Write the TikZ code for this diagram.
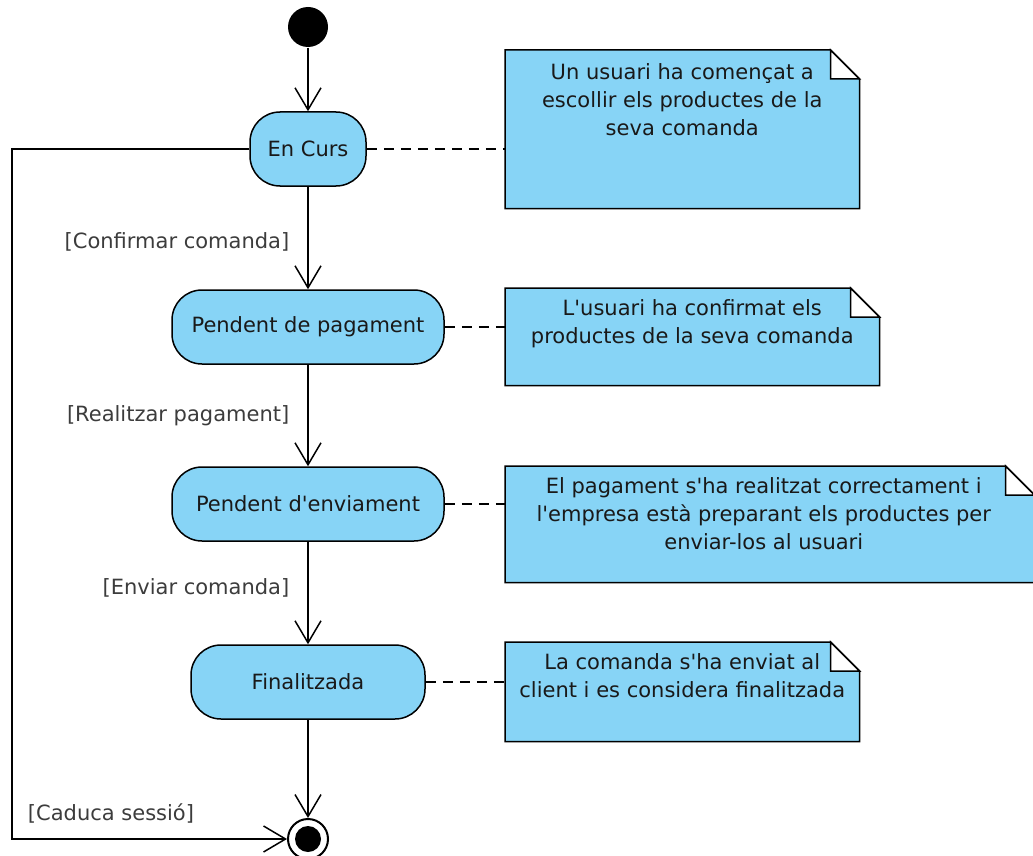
\documentclass[tikz,border=0pt]{standalone}
\usepackage{fontspec}
\setmainfont{DejaVu Sans}
\usepackage{tikz}
\usetikzlibrary{positioning,arrows.meta}
\definecolor{stateblue}{RGB}{135,212,246}
\definecolor{guardgray}{RGB}{60,60,60}
\tikzstyle{state} = [draw, fill=stateblue, rounded corners=15pt, minimum height=37pt, text=black!90, line width=0.75pt]
\tikzstyle{initial} = [circle, fill=black, minimum size=20pt, inner sep=0pt]
\tikzstyle{final} = [circle, draw, line width=1pt, minimum size=20pt, inner sep=0pt,
   path picture={\fill (path picture bounding box.center) circle (6.5pt);}]
\tikzstyle{note} = [anchor=north west, inner sep=0pt]
\tikzstyle{notetext} = [align=center, inner sep=2.5pt, anchor=north, text=black!90]
\tikzstyle{guard} = [left, text=guardgray, inner sep=0pt, xshift=-9pt]
\tikzstyle{link} = [dashed, dash pattern=on 5pt off 3.5pt, line width=0.75pt]

\begin{document}
\begin{tikzpicture}[x=0.5pt, y=-0.5pt, line width=0.75pt, >={Straight Barb[length=11pt,width=13pt]},
   font=\fontsize{10.5}{14}\selectfont]
\useasboundingbox (0,0) rectangle (1033,856);
% States
	\node [initial] (start) at (308,27) {};
	\node [state, minimum width=58pt, below of=start, node distance=61pt] (curs) {En Curs};
	\node [state, minimum width=136pt, below of=curs, node distance=89pt] (pagament) {Pendent de pagament};
	\node [state, minimum width=136pt, below of=pagament, node distance=88.5pt] (enviament) {Pendent d\textquotesingle enviament};
	\node [state, minimum width=117pt, below of=enviament, node distance=89pt] (finalitzada) {Finalitzada};
	\node [final, below of=finalitzada, node distance=78.5pt] (end) {};
	\coordinate (corner) at (12,839);
% Notes
	\node [note, minimum width=176.5pt, minimum height=78.5pt] (n1) at (505,50) {};
	\node [note, minimum width=186.5pt, minimum height=48pt] (n2) at (505,288) {};
	\node [note, minimum width=264pt, minimum height=57.5pt] (n3) at (505,466) {};
	\node [note, minimum width=176.5pt, minimum height=49pt] (n4) at (505,642) {};
	\foreach \n in {n1,n2,n3,n4} {
		\draw [fill=stateblue] (\n.south west) -- (\n.north west) -- ([xshift=-14.5pt]\n.north east)
			-- ([yshift=-14.5pt]\n.north east) -- (\n.south east) -- cycle;
		\draw [fill=white] ([xshift=-14.5pt]\n.north east) |- ([yshift=-14.5pt]\n.north east) -- cycle;
	}
	\node [notetext, below=4pt of n1.north] (t1) {Un usuari ha començat a\\escollir els productes de la\\seva comanda};
	\node [notetext, below=3pt of n2.north] (t2) {L\textquotesingle usuari ha confirmat els\\productes de la seva comanda};
	\node [notetext, below=3pt of n3.north, xshift=-3pt] (t3) {El pagament s\textquotesingle ha realitzat correctament i\\l\textquotesingle empresa està preparant els productes per\\enviar-los al usuari};
	\node [notetext, below=3pt of n4.north] (t4) {La comanda s\textquotesingle ha enviat al\\client i es considera finalitzada};
% Connections
	\draw [->] (start) -- (curs);
	\draw [->] (curs) -- node [guard, yshift=-2pt] {[Confirmar comanda]} (pagament);
	\draw [->] (pagament) -- node [guard] {[Realitzar pagament]} (enviament);
	\draw [->] (enviament) -- node [guard, pos=0.45] {[Enviar comanda]} (finalitzada);
	\draw [->] (finalitzada) -- (end);
	\draw [->] (curs.west) -| (corner) -- node [above, pos=0.36, text=guardgray, yshift=4pt] {[Caduca sessió]} (end);
	\draw [link] (curs) -- (curs -| n1.west);
	\draw [link] (pagament) -- (pagament -| n2.west);
	\draw [link] (enviament) -- (enviament -| n3.west);
	\draw [link] (finalitzada) -- (finalitzada -| n4.west);
\end{tikzpicture}
\end{document}
